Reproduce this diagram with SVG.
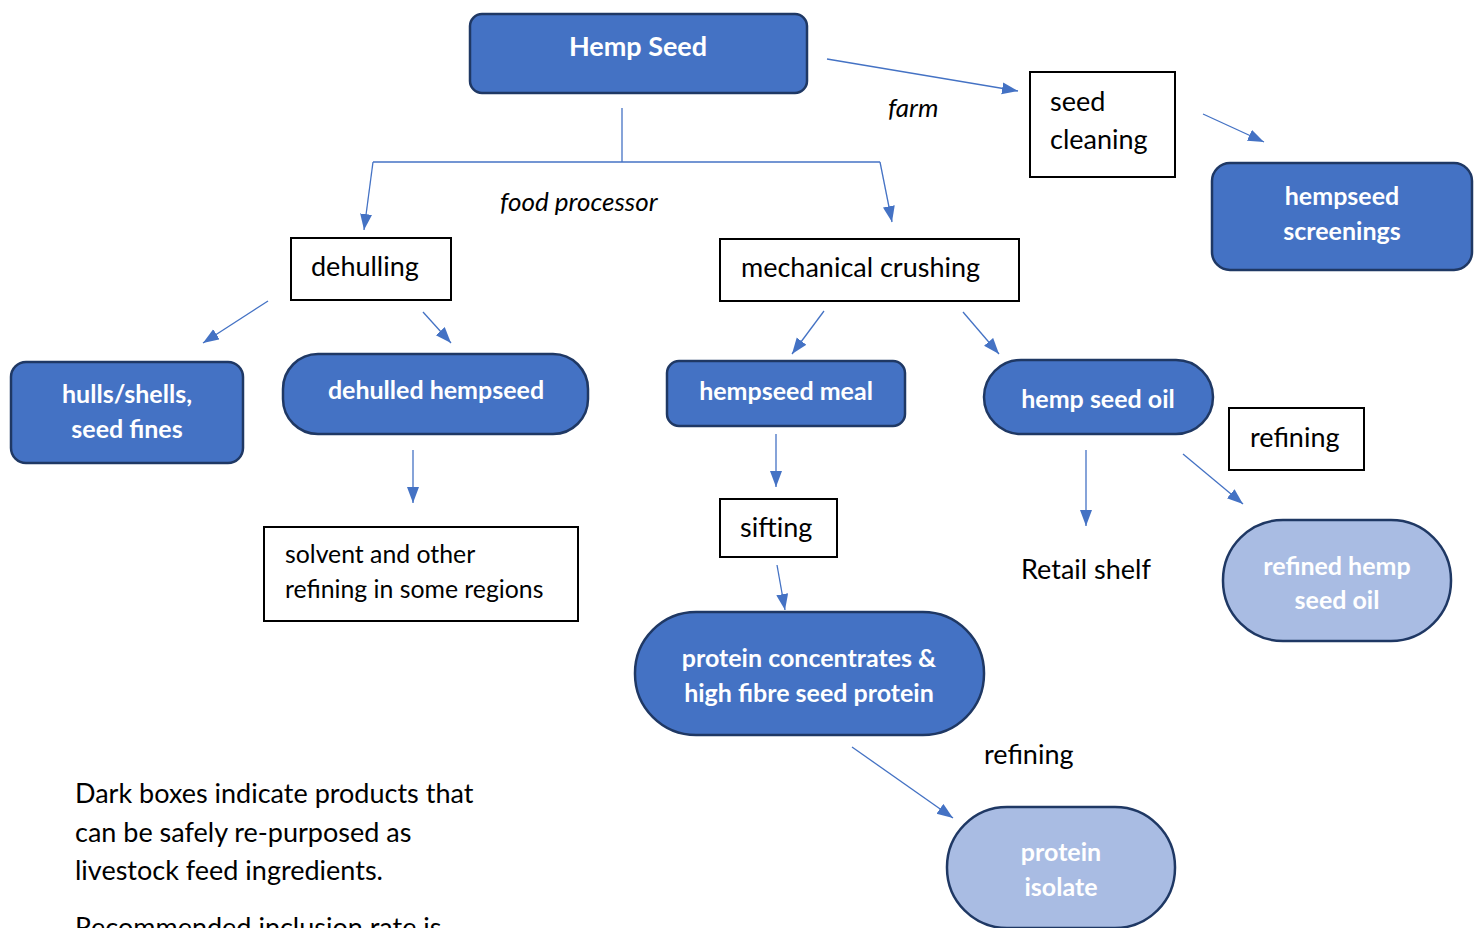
<svg xmlns="http://www.w3.org/2000/svg" width="1479" height="928" viewBox="0 0 1479 928">
<style>
.dark{fill:#4472C4;stroke:#1F3864;stroke-width:2.5}
.light{fill:#A9BCE3;stroke:#1F3864;stroke-width:2.5}
.box{fill:#fff;stroke:#000;stroke-width:2}
.wt{font-family:Lato,"Open Sans",sans-serif;font-weight:bold;fill:#fff;font-size:25px;text-anchor:middle}
.bt{font-family:Lato,"Open Sans",sans-serif;fill:#000;font-size:27px}
.it{font-family:Lato,"Open Sans",sans-serif;font-style:italic;fill:#000;font-size:26px}
.c{stroke:#4472C4;stroke-width:1.3;fill:none}
</style>
<defs>
<marker id="ah" markerUnits="userSpaceOnUse" markerWidth="18" markerHeight="14" refX="16" refY="6" orient="auto">
<path d="M0,0 L16,6 L0,12 z" fill="#4472C4"/>
</marker>
</defs>
<g id="connectors">
<line class="c" x1="827" y1="59" x2="1018" y2="91" marker-end="url(#ah)"/>
<line class="c" x1="1203" y1="114" x2="1264" y2="142" marker-end="url(#ah)"/>
<polyline class="c" points="622,108 622,162"/>
<polyline class="c" points="373,162 880,162"/>
<line class="c" x1="373" y1="162" x2="364" y2="230" marker-end="url(#ah)"/>
<line class="c" x1="880" y1="162" x2="892" y2="222" marker-end="url(#ah)"/>
<line class="c" x1="268" y1="301" x2="203" y2="343" marker-end="url(#ah)"/>
<line class="c" x1="423" y1="312" x2="451" y2="343" marker-end="url(#ah)"/>
<line class="c" x1="824" y1="311" x2="792" y2="354" marker-end="url(#ah)"/>
<line class="c" x1="963" y1="312" x2="999" y2="354" marker-end="url(#ah)"/>
<line class="c" x1="413" y1="450" x2="413" y2="503" marker-end="url(#ah)"/>
<line class="c" x1="776" y1="434" x2="776" y2="487" marker-end="url(#ah)"/>
<line class="c" x1="777" y1="565" x2="785" y2="610" marker-end="url(#ah)"/>
<line class="c" x1="1086" y1="450" x2="1086" y2="526" marker-end="url(#ah)"/>
<line class="c" x1="1183" y1="454" x2="1243" y2="504" marker-end="url(#ah)"/>
<line class="c" x1="852" y1="747" x2="953" y2="818" marker-end="url(#ah)"/>
</g>
<g id="labels">
<text class="it" x="888" y="117">farm</text>
<text class="it" x="500" y="211">food processor</text>
<text class="bt" x="1021" y="579">Retail shelf</text>
<text class="bt" x="984" y="764">refining</text>
</g>
<g id="hemp-seed">
<rect class="dark" x="470" y="14" width="337" height="79" rx="12"/>
<text class="wt" x="638" y="56" style="font-size:27px">Hemp Seed</text>
</g>
<g id="seed-cleaning">
<rect class="box" x="1030" y="72" width="145" height="105"/>
<text class="bt" x="1050" y="111">seed</text>
<text class="bt" x="1050" y="149">cleaning</text>
</g>
<g id="hempseed-screenings">
<rect class="dark" x="1212" y="163" width="260" height="107" rx="18"/>
<text class="wt" x="1342" y="205">hempseed</text>
<text class="wt" x="1342" y="240">screenings</text>
</g>
<g id="dehulling">
<rect class="box" x="291" y="238" width="160" height="62"/>
<text class="bt" x="311" y="276">dehulling</text>
</g>
<g id="mechanical-crushing">
<rect class="box" x="720" y="239" width="299" height="62"/>
<text class="bt" x="741" y="277">mechanical crushing</text>
</g>
<g id="hulls-shells">
<rect class="dark" x="11" y="362" width="232" height="101" rx="15"/>
<text class="wt" x="127" y="403">hulls/shells,</text>
<text class="wt" x="127" y="438">seed fines</text>
</g>
<g id="dehulled-hempseed">
<rect class="dark" x="283" y="354" width="305" height="80" rx="35"/>
<text class="wt" x="436" y="399">dehulled hempseed</text>
</g>
<g id="hempseed-meal">
<rect class="dark" x="667" y="361" width="238" height="65" rx="12"/>
<text class="wt" x="786" y="400">hempseed meal</text>
</g>
<g id="hemp-seed-oil">
<rect class="dark" x="984" y="360" width="229" height="74" rx="37"/>
<text class="wt" x="1098" y="408">hemp seed oil</text>
</g>
<g id="solvent">
<rect class="box" x="264" y="527" width="314" height="94"/>
<text class="bt" x="285" y="563" style="font-size:24.8px">solvent and other</text>
<text class="bt" x="285" y="598" style="font-size:24.8px">refining in some regions</text>
</g>
<g id="sifting">
<rect class="box" x="720" y="499" width="117" height="58"/>
<text class="bt" x="740" y="537">sifting</text>
</g>
<g id="refining-box">
<rect class="box" x="1229" y="408" width="135" height="62"/>
<text class="bt" x="1250" y="447">refining</text>
</g>
<g id="protein-concentrates">
<rect class="dark" x="635" y="612" width="349" height="123" rx="61"/>
<text class="wt" x="809" y="667">protein concentrates &amp;</text>
<text class="wt" x="809" y="702">high fibre seed protein</text>
</g>
<g id="refined-hemp-seed-oil">
<rect class="light" x="1223" y="520" width="228" height="121" rx="60"/>
<text class="wt" x="1337" y="575">refined hemp</text>
<text class="wt" x="1337" y="609">seed oil</text>
</g>
<g id="protein-isolate">
<rect class="light" x="947" y="807" width="228" height="121" rx="60"/>
<text class="wt" x="1061" y="861">protein</text>
<text class="wt" x="1061" y="896">isolate</text>
</g>
<g id="note">
<text class="bt" x="75" y="803">Dark boxes indicate products that</text>
<text class="bt" x="75" y="842">can be safely re-purposed as</text>
<text class="bt" x="75" y="880">livestock feed ingredients.</text>
<text class="bt" x="75" y="937">Recommended inclusion rate is</text>
</g>
</svg>
